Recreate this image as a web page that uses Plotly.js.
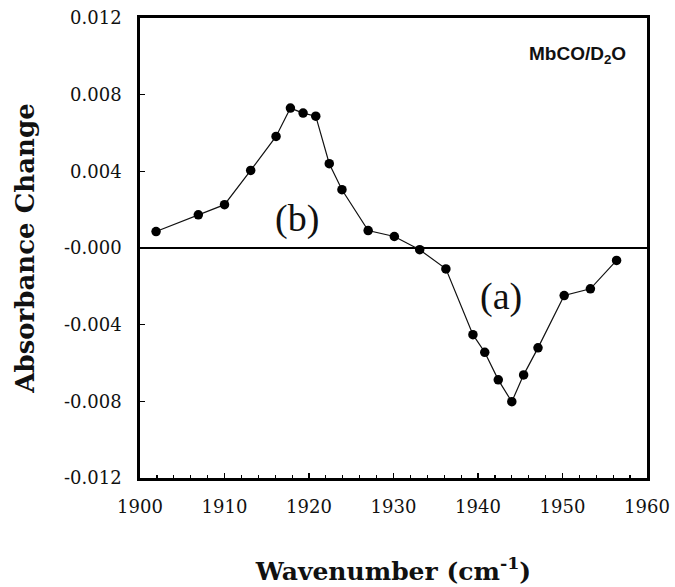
<!DOCTYPE html>
<html>
<head>
<meta charset="utf-8">
<script src="https://cdn.plot.ly/plotly-3.0.1.min.js"></script>
<style>
html,body{margin:0;padding:0;background:#fff;}
#chart{width:675px;height:587px;}
</style>
</head>
<body>
<div id="chart"></div>
<script>
// Data
const wavenumber = [1901.9, 1906.9, 1910.0, 1913.1, 1916.1, 1917.8, 1919.3, 1920.8, 1922.4, 1923.9,
                    1927.0, 1930.1, 1933.1, 1936.2, 1939.4, 1940.8, 1942.4, 1944.0, 1945.4, 1947.1,
                    1950.2, 1953.3, 1956.4];
const absorbanceChange = [0.00086, 0.00173, 0.00226, 0.00405, 0.00582, 0.00730, 0.00704, 0.00688, 0.00440, 0.00304,
                          0.00091, 0.00060, -0.00009, -0.00109, -0.00452, -0.00544, -0.00688, -0.00802, -0.00662, -0.00521,
                          -0.00248, -0.00213, -0.00065];
const yTickVals = [0.012, 0.008, 0.004, 0, -0.004, -0.008, -0.012];
const yTickText = ["0.012", "0.008", "0.004", "-0.000", "-0.004", "-0.008", "-0.012"];
const xTickVals = [1900, 1910, 1920, 1930, 1940, 1950, 1960];
const labels = [
  {text: "(b)", x: 1918.6, y: 0.00154},
  {text: "(a)", x: 1942.7, y: -0.00253}
];
const sampleLabel = "MbCO/D<sub>2</sub>O";

const trace = {
  x: wavenumber,
  y: absorbanceChange,
  type: 'scatter',
  mode: 'lines+markers',
  line: {color: '#111', width: 1.2},
  marker: {color: '#000', size: 9.5, line: {color: '#000', width: 0}},
  showlegend: false,
  hoverinfo: 'x+y'
};

const serif = 'DejaVu Serif, serif';

const layout = {
  width: 675,
  height: 587,
  margin: {l: 140, r: 28, t: 18, b: 109},
  paper_bgcolor: '#fff',
  plot_bgcolor: '#fff',
  xaxis: {
    range: [1900, 1960],
    tickvals: xTickVals,
    ticks: 'inside',
    ticklen: 5,
    tickwidth: 1.5,
    tickcolor: '#000',
    minor: {dtick: 2, ticks: 'inside', ticklen: 3, tickwidth: 1.2, tickcolor: '#000', showgrid: false},
    showgrid: false,
    zeroline: false,
    showline: true,
    linecolor: '#000',
    linewidth: 2.8,
    mirror: true,
    tickfont: {family: serif, size: 18, color: '#111'},
    ticklabelstandoff: 11,
    title: {text: 'Wavenumber (cm<sup>-1</sup>)', font: {family: serif, size: 25, color: '#111', weight: 'bold'}, standoff: 46}
  },
  yaxis: {
    range: [-0.012, 0.012],
    tickvals: yTickVals,
    ticktext: yTickText,
    ticks: 'inside',
    ticklen: 5,
    tickwidth: 1.5,
    tickcolor: '#000',
    showgrid: false,
    zeroline: true,
    zerolinecolor: '#000',
    zerolinewidth: 2.8,
    showline: true,
    linecolor: '#000',
    linewidth: 2.8,
    mirror: true,
    tickfont: {family: serif, size: 18, color: '#111'},
    ticklabelstandoff: 12,
    title: {text: 'Absorbance Change', font: {family: serif, size: 26, color: '#111', weight: 'bold'}, standoff: 22}
  },
  annotations: labels.map(l => ({
    x: l.x, y: l.y, xref: 'x', yref: 'y', text: l.text, showarrow: false,
    font: {family: 'Liberation Serif, Times New Roman, serif', size: 38, color: '#111'}
  })).concat([{
    x: 0.963, y: 0.92, xref: 'paper', yref: 'paper', xanchor: 'right', yanchor: 'middle',
    text: sampleLabel, showarrow: false,
    font: {family: 'Liberation Sans, Arial, sans-serif', size: 19, color: '#111', weight: 'bold'}
  }])
};

Plotly.newPlot('chart', [trace], layout, {displayModeBar: false, staticPlot: true});
</script>
</body>
</html>
